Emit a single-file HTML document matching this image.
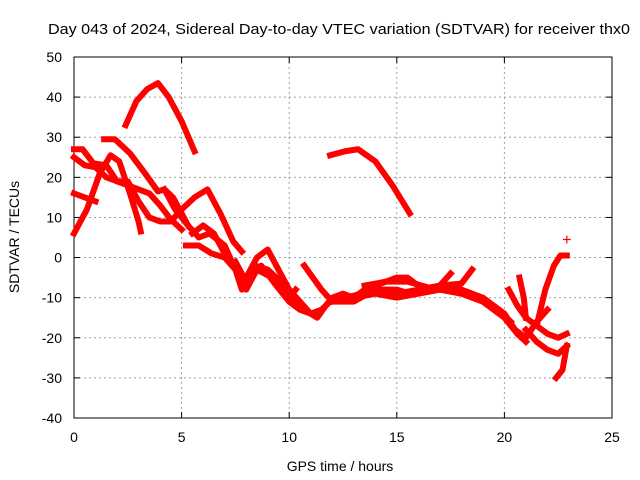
<!DOCTYPE html>
<html><head><meta charset="utf-8"><style>
body{margin:0;background:#fff;}
svg{display:block;font-family:"Liberation Sans",sans-serif;}
</style></head><body>
<svg id="chart" width="640" height="480">
<text x="48" y="34" font-size="15" textLength="582" lengthAdjust="spacingAndGlyphs">Day 043 of 2024, Sidereal Day-to-day VTEC variation (SDTVAR) for receiver thx0</text>
<g id="grid"></g><g id="axes"></g><g id="marks"></g>
<text x="340" y="471" font-size="14" text-anchor="middle">GPS time / hours</text>
<text transform="translate(19,237) rotate(-90)" font-size="14" text-anchor="middle">SDTVAR / TECUs</text>
</svg>
<script>
const xTicks=[0,5,10,15,20,25];
const yTicks=[50,40,30,20,10,0,-10,-20,-30,-40];
const tr1=[[2.4,33],[2.9,39],[3.4,42],[3.9,43.5],[4.4,40],[5,34],[5.6,26.5]];
const tr2=[[11.9,25.5],[12.6,26.5],[13.2,27],[14,24],[14.8,18],[15.6,11]];
const tr3=[[0,6],[0.6,12],[1.2,21],[1.7,25.5],[2.1,24],[2.6,16],[3.0,9],[3.1,6.5]];
const tr4=[[0,27],[0.4,27],[0.9,23.5],[1.5,23],[2.0,19],[2.5,19],[3.0,14],[3.5,10],[4,9],[4.5,9],[5,12],[5.6,15],[6.2,17],[6.8,11],[7.4,4],[7.8,1.5]];
const tr5=[[0,25],[0.5,23],[1,22.5],[1.5,20],[2,19],[2.5,18],[3.5,16],[4,13],[4.5,9.5],[5,7]];
const tr6=[[1.4,29.5],[1.9,29.5],[2.6,26],[3.3,21],[3.9,16.5],[4.2,17],[4.6,15],[5,11],[5.3,8]];
const tr7=[[0,16],[1,14]];
const tr8=[[4.2,17],[4.7,12],[5.3,8],[5.8,5],[6.3,6],[7,3],[7.5,-3],[8,-5],[8.5,0],[9,2],[9.5,-3],[10,-8],[10.5,-11],[11,-14],[11.3,-15],[11.7,-12],[12,-10],[12.5,-9],[13,-10],[13.5,-8],[14,-7],[15,-5],[15.5,-5],[16,-7],[17,-8],[18,-8],[19,-10],[20,-14],[20.5,-18],[21,-20],[21.5,-16],[22,-13]];
const tr9=[[5.2,3],[5.8,3],[6.4,1],[7,0],[7.5,-3],[7.8,-8],[8.2,-5],[8.7,-2],[9.4,-7],[10,-11],[10.5,-13],[11,-14],[11.5,-13],[12,-10.5],[13,-9.5],[14,-8],[15,-9],[16,-8],[17,-7],[18,-6.5],[18.5,-3]];
const tr10=[[5.5,6],[6,8],[6.5,6],[7,1],[7.5,-3],[8,-8],[8.5,-3],[9.2,-5],[10,-10],[10.3,-8]];
const tr11=[[10.7,-2],[11.5,-8],[12,-11],[13,-11],[14,-8],[15,-8],[15.6,-9],[16.5,-8],[17,-7],[17.5,-4]];
const tr12=[[20.2,-8],[20.6,-12],[21,-15],[21.5,-17],[22,-19],[22.5,-20],[22.9,-19]];
const tr13=[[21,-18],[21.5,-21],[22,-23],[22.5,-24],[22.9,-22]];
const tr14=[[22.4,-30],[22.7,-28],[22.9,-22]];
const tr15=[[21.5,-17],[21.9,-8],[22.3,-2],[22.6,0.5],[22.9,0.5]];
const tr16=[[20.7,-5],[20.9,-10],[21,-15]];
const tr17=[[12,-11],[13,-10],[14,-9],[15,-10],[16,-9],[17,-8],[18,-9],[19,-11],[20,-15],[20.6,-19],[21,-21]];
const tr18=[[13.5,-7],[14.5,-6],[15.5,-6],[16.5,-7.5],[17.5,-7],[18.5,-9],[19.5,-12],[20.3,-16]];
const tr19=[[7.5,-1],[8,-6],[8.4,-2],[9,-3],[9.6,-6],[10.2,-10],[10.8,-13]];
const lonePoint=[[22.9,4.5]];
const traces=[tr1,tr2,tr3,tr4,tr5,tr6,tr7,tr8,tr9,tr10,tr11,tr12,tr13,tr14,tr15,tr16,tr17,tr18,tr19];
const L=74,R=612,T=57,B=418;
const sx=t=>L+(t-0)/25*(R-L);
const sy=v=>T+(50-v)/90*(B-T);
const NS="http://www.w3.org/2000/svg";
const mk=(tag,attrs,parent)=>{const e=document.createElementNS(NS,tag);for(const k in attrs)e.setAttribute(k,attrs[k]);parent.appendChild(e);return e;};
const grid=document.getElementById('grid'),axes=document.getElementById('axes'),marks=document.getElementById('marks');
xTicks.forEach(t=>{
 if(t>0&&t<25){const g=mk('line',{x1:sx(t),x2:sx(t),y1:T,y2:B,stroke:'#a0a0a0','stroke-dasharray':'2,3'},grid);
 
 }
 const tl=mk('text',{x:sx(t),y:B+24,'font-size':14,'text-anchor':'middle'},axes);tl.textContent=t;
 
 
 mk('line',{x1:sx(t),x2:sx(t),y1:B,y2:B-6,stroke:'#000'},axes);
 mk('line',{x1:sx(t),x2:sx(t),y1:T,y2:T+6,stroke:'#000'},axes);
});
yTicks.forEach(v=>{
 if(v<50&&v>-40){const g=mk('line',{x1:L,x2:R,y1:sy(v),y2:sy(v),stroke:'#a0a0a0','stroke-dasharray':'2,3'},grid);
 
 }
 const tl=mk('text',{x:L-12,y:sy(v)+5,'font-size':14,'text-anchor':'end'},axes);tl.textContent=v;
 
 
 mk('line',{x1:L,x2:L+6,y1:sy(v),y2:sy(v),stroke:'#000'},axes);
 mk('line',{x1:R,x2:R-6,y1:sy(v),y2:sy(v),stroke:'#000'},axes);
});
const fr=mk('rect',{x:L,y:T,width:R-L,height:B-T,fill:'none',stroke:'#000'},axes);


traces.forEach((tr,i)=>{
 const p=mk('polyline',{points:tr.map(d=>sx(d[0])+','+sy(d[1])).join(' '),fill:'none',stroke:'#f00','stroke-width':6,'stroke-linejoin':'round','stroke-linecap':'square'},marks);
 
 
});
lonePoint.forEach(d=>{
 const x=sx(d[0]),y=sy(d[1]);
 const p=mk('path',{d:`M${x-4},${y}H${x+4}M${x},${y-4}V${y+4}`,stroke:'#f00','stroke-width':1.2},marks);
 
 
});
</script>
</body></html>
